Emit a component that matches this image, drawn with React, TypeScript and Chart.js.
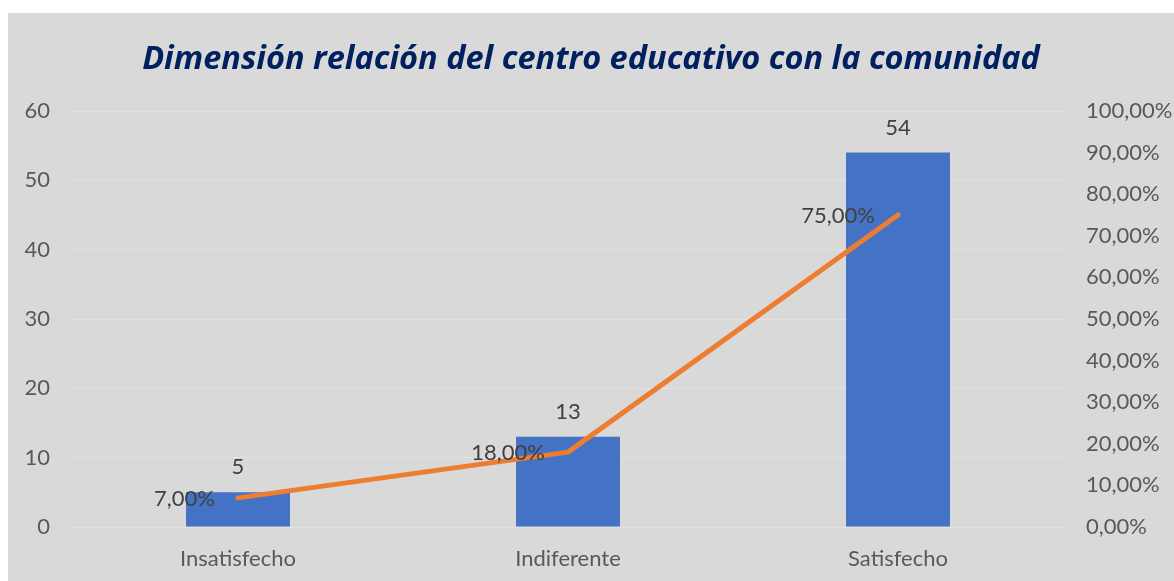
import React, { useEffect, useRef } from "react";
import { Chart, registerables } from "chart.js";

Chart.register(...registerables);

const categories = ["Insatisfecho", "Indiferente", "Satisfecho"];
const frequencies = [5, 13, 54];
const percentages = [7, 18, 75];
const leftTicks = [0, 10, 20, 30, 40, 50, 60];
const rightTicks = [0, 10, 20, 30, 40, 50, 60, 70, 80, 90, 100];
const title = "Dimensión relación del centro educativo con la comunidad";

const FONT = "Lato, 'Open Sans', sans-serif";
const TITLE_FONT = "'Open Sans', Lato, sans-serif";
const fmtPct = (v: number) => v.toFixed(2).replace(".", ",") + "%";

const labelPlugin = {
  id: "dataLabels",
  afterDatasetsDraw(chart: any) {
    const ctx = chart.ctx;
    ctx.save();
    ctx.font = `22px ${FONT}`;
    ctx.fillStyle = "#404040";
    const barMeta = chart.getDatasetMeta(1);
    barMeta.data.forEach((el: any, i: number) => {
      ctx.textAlign = "center";
      ctx.textBaseline = "middle";
      ctx.fillText(String(frequencies[i]), el.x, el.y - 25);
    });
    const lineMeta = chart.getDatasetMeta(0);
    lineMeta.data.forEach((el: any, i: number) => {
      ctx.textAlign = "right";
      ctx.textBaseline = "middle";
      ctx.fillText(fmtPct(percentages[i]), el.x - 23, el.y + 1);
    });
    ctx.restore();
  },
};

export default function App() {
  const ref = useRef<HTMLCanvasElement>(null);
  useEffect(() => {
    if (!ref.current) return;
    const chart = new Chart(ref.current, {
      type: "bar",
      data: {
        labels: categories,
        datasets: [
          {
            type: "line",
            data: percentages,
            yAxisID: "y1",
            borderColor: "#ed7d31",
            backgroundColor: "#ed7d31",
            borderWidth: 5,
            borderCapStyle: "round",
            borderJoinStyle: "round",
            pointRadius: 0,
            tension: 0,
            order: 0,
          } as any,
          {
            type: "bar",
            data: frequencies,
            yAxisID: "y",
            backgroundColor: "#4472c4",
            categoryPercentage: 1,
            barPercentage: 0.315,
            order: 1,
          },
        ],
      },
      options: {
        responsive: false,
        animation: false,
        layout: { padding: 0 },
        plugins: {
          legend: { display: false },
          tooltip: { enabled: false },
          title: {
            display: true,
            text: title,
            color: "#002060",
            font: { family: TITLE_FONT, size: 32.5, weight: "bold", style: "italic" },
            padding: { top: 27, bottom: 32 },
          },
        },
        scales: {
          x: {
            grid: { display: false },
            border: { display: false },
            ticks: {
              color: "#595959",
              font: { family: FONT, size: 22 },
              padding: 11,
            },
            afterFit: (s: any) => {
              s.height = 54;
            },
          },
          y: {
            position: "left",
            min: 0,
            max: 60,
            afterBuildTicks: (s: any) => {
              s.ticks = leftTicks.map((v) => ({ value: v }));
            },
            grid: { color: "#e2e2e2", lineWidth: 1, drawTicks: false },
            border: { display: false },
            ticks: {
              color: "#595959",
              font: { family: FONT, size: 22 },
              padding: 23,
            },
            afterFit: (s: any) => {
              s.width = 65;
            },
          },
          y1: {
            position: "right",
            min: 0,
            max: 100,
            afterBuildTicks: (s: any) => {
              s.ticks = rightTicks.map((v) => ({ value: v }));
            },
            grid: { display: false, drawTicks: false },
            border: { display: false },
            ticks: {
              color: "#595959",
              font: { family: FONT, size: 22 },
              padding: 23,
              callback: (v: any) => fmtPct(Number(v)),
            },
            afterFit: (s: any) => {
              s.width = 111;
            },
          },
        },
      },
      plugins: [labelPlugin],
    });
    return () => chart.destroy();
  }, []);

  return (
    <div
      style={{
        position: "fixed",
        left: 8,
        top: 13,
        right: 0,
        bottom: 0,
        background: "#d9d9d9",
      }}
    >
      <canvas ref={ref} width={1166} height={568} style={{ display: "block" }} />
    </div>
  );
}
